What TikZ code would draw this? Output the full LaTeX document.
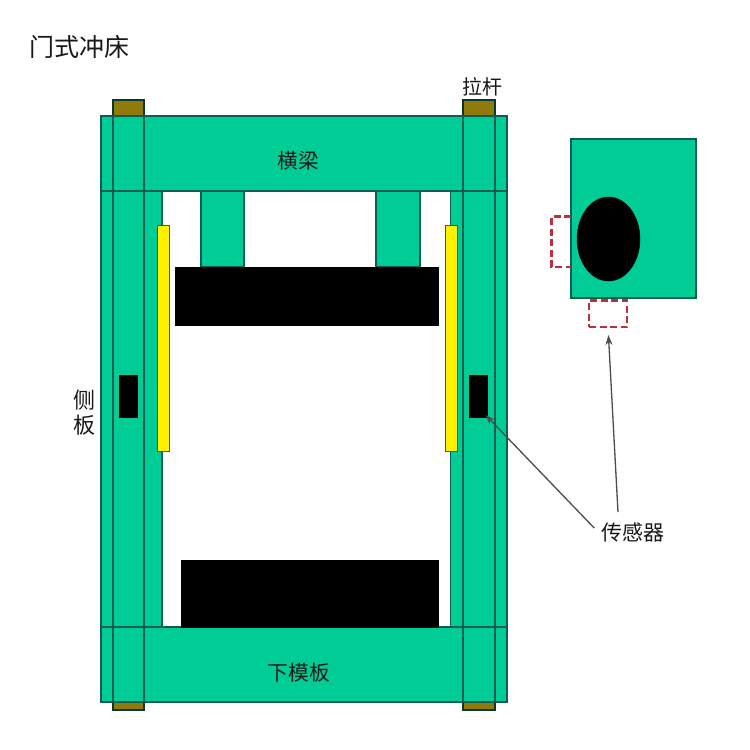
\documentclass[tikz,border=0pt]{standalone}
\usepackage{fontspec}
\setmainfont{Noto Sans CJK SC}
\usetikzlibrary{arrows.meta,shapes.geometric}
\definecolor{plate}{HTML}{00CC96}
\definecolor{edgeline}{HTML}{0B5F52}
\definecolor{olive}{HTML}{8F7A0A}
\definecolor{sensorred}{HTML}{C0303A}
\tikzset{
  platebox/.style={fill=plate,draw=edgeline,line width=1.5pt},
  rodline/.style={draw=edgeline,line width=1.5pt},
  capbox/.style={fill=olive,draw=edgeline!60!black,line width=1.3pt},
  blackbox/.style={fill=black,draw=black,line width=.5pt},
  yellowbox/.style={fill=yellow,draw=olive!70!black,line width=1pt},
  dashbox/.style={draw=sensorred,line width=2.4pt,dash pattern=on 7pt off 3.5pt},
  lbl/.style={text=black!90,inner sep=0pt},
  pointer/.style={draw=black!70,line width=1.3pt,-{Stealth[length=10pt,width=7pt]}}
}
\newcommand{\bx}[6]{\node[#2,inner sep=0pt,outer sep=0pt,minimum width={(#5-#3)*1pt},minimum height={(#6-#4)*1pt}] (#1) at ({(#3+#5)/2},{(#4+#6)/2}) {};}
\begin{document}
\begin{tikzpicture}[x=1pt,y=-1pt]
\useasboundingbox[fill=white] (0,0) rectangle (750,750);
% tie-rod caps
\bx{capTL}{capbox}{113}{100}{144}{116}
\bx{capTR}{capbox}{463}{100}{495}{116}
\bx{capBL}{capbox}{113}{702}{144}{710}
\bx{capBR}{capbox}{463}{702}{495}{710}
% side plates
\bx{sideL}{platebox}{101}{191}{162}{627}
\bx{sideR}{platebox}{450.5}{191}{507}{627}
% pillars
\bx{pillarL}{platebox}{201}{191}{244}{267}
\bx{pillarR}{platebox}{376}{191}{420}{267}
% beam and lower plate
\bx{beam}{platebox}{101}{116}{507}{191}
\bx{lower}{platebox}{101}{627}{507}{702}
% tie rods
\bx{rodL}{rodline}{113}{116}{144}{702}
\bx{rodR}{rodline}{463}{116}{495}{702}
% dies
\bx{upperDie}{blackbox}{175.5}{267}{438.5}{325}
\bx{lowerDie}{blackbox}{181}{560}{438.5}{627}
% guides
\bx{guideL}{yellowbox}{157}{225}{169}{451}
\bx{guideR}{yellowbox}{445}{225}{457}{451}
% sensors on the columns
\bx{sensL}{blackbox}{119.5}{375}{137.5}{417}
\bx{sensR}{blackbox}{469.5}{375}{487.5}{417}
% section view
\bx{section}{platebox}{571}{139}{696}{298}
\node[fill=black,draw=black,ellipse,inner sep=0pt,minimum width=63pt,minimum height=84pt] (hole) at (608.5,239) {};
\path[dashbox] (571,216.5) -- (551.5,216.5) -- (551.5,267) -- (571,267);
\bx{dashB}{dashbox}{589}{300.5}{627}{327}
% labels
\node[lbl,font=\fontsize{25}{25}\selectfont] (title) at (79.5,47) {门式冲床};
\node[lbl,font=\fontsize{20}{20}\selectfont] (labelRod) at (482,87) {拉杆};
\node[lbl,font=\fontsize{20.5}{20.5}\selectfont] (labelBeam) at (298,161) {横梁};
\node[lbl,font=\fontsize{20.7}{20.7}\selectfont] (labelLower) at (299,673) {下模板};
\node[lbl,font=\fontsize{22}{25}\selectfont,align=center] (labelSide) at (84,413) {侧\\板};
\node[lbl,font=\fontsize{21}{21}\selectfont] (labelSensor) at (633,532) {传感器};
% pointers
\coordinate (tipA) at (dashB.south);
\draw[pointer,shorten >=8pt] (labelSensor.north) ++(-15,-10) -- (tipA);
\draw[pointer,shorten >=-3pt,shorten <=0pt] (labelSensor.north west) ++(-7,6) -- (sensR.south east);
\end{tikzpicture}
\end{document}
